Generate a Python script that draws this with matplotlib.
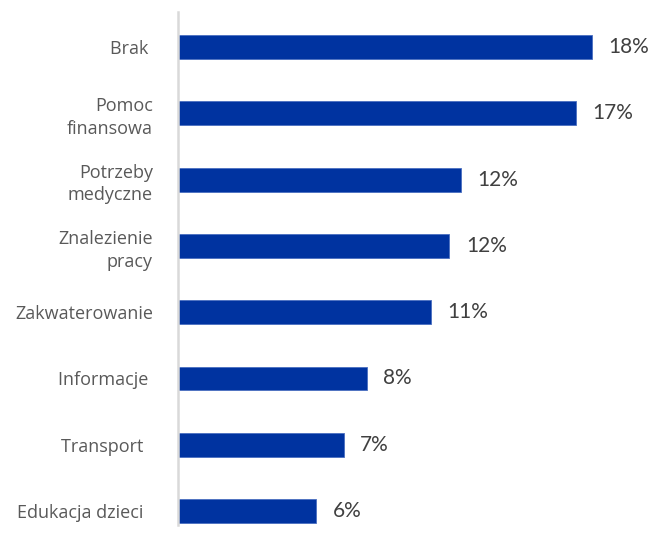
import matplotlib.pyplot as plt
import numpy as np

categories = ['Brak ', 'Pomoc\nfinansowa', 'Potrzeby\nmedyczne', 'Znalezienie\npracy',
              'Zakwaterowanie', 'Informacje ', 'Transport  ', 'Edukacja dzieci  ']
values = [18.0, 17.3, 12.3, 11.8, 11.0, 8.2, 7.2, 6.0]
value_labels = ['18%', '17%', '12%', '12%', '11%', '8%', '7%', '6%']

bar_color = '#0033A0'

fig = plt.figure(figsize=(6.51, 5.35), dpi=100)
ax = fig.add_axes([178 / 651, 1 - 525 / 535, 1 - 178 / 651, (525 - 12) / 535])

y = np.arange(len(categories))
ax.barh(y, values, height=0.36, color=bar_color, edgecolor='#4a6fc0', linewidth=0.6)

for yi, v, lab in zip(y, values, value_labels):
    ax.text(v + 0.72, yi, lab, va='center', ha='left', fontsize=15,
            family='Lato', color='#404040')

ax.set_ylim(7.21, -0.528)
ax.set_xlim(0, (651 - 178) / 23)
ax.set_yticks(y)
ax.set_yticklabels(categories, fontsize=13, family='Open Sans', color='#595959',
                   multialignment='right', linespacing=1.35)
ax.tick_params(axis='y', length=0, pad=18)
ax.set_xticks([])

for s in ['top', 'right', 'bottom']:
    ax.spines[s].set_visible(False)
ax.spines['left'].set_color('#d9d9d9')
ax.spines['left'].set_linewidth(1.8)

fig.savefig('out.png', dpi=100)
